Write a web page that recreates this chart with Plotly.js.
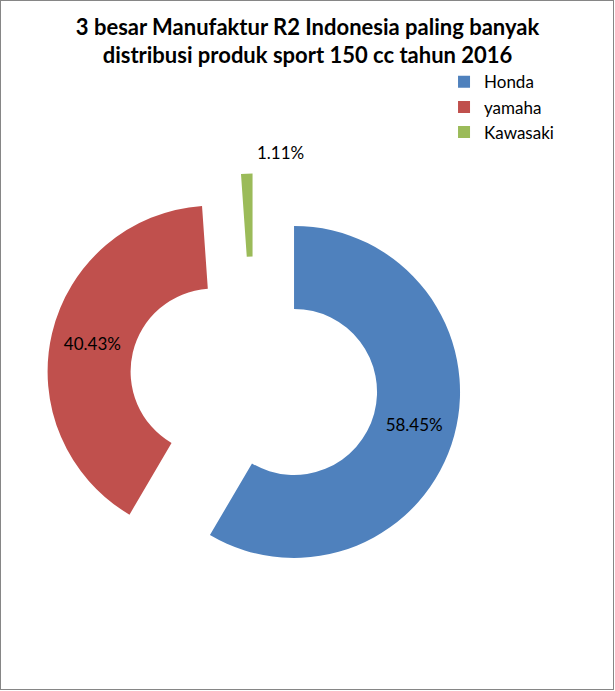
<!DOCTYPE html>
<html>
<head>
<meta charset="utf-8">
<script src="https://cdn.plot.ly/plotly-3.0.1.min.js"></script>
<style>
html,body{margin:0;padding:0;background:#fff;}
#frame{position:absolute;left:0;top:0;width:614px;height:690px;box-sizing:border-box;border:1px solid #868686;overflow:hidden;}
#chart{position:absolute;left:-1px;top:-1px;width:615px;height:691px;}
</style>
</head>
<body>
<div id="frame"><div id="chart"></div></div>
<script>
var manufacturers = ["Honda", "yamaha", "Kawasaki"];
var shares = [58.45, 40.43, 1.11];
var sliceColors = ["#4F81BD", "#C0504D", "#9BBB59"];
var titleText = "3 besar Manufaktur R2 Indonesia paling banyak<br>distribusi produk sport 150 cc tahun 2016";

var FONT = "Lato, 'Open Sans', sans-serif";
var W = 615, H = 691;
var PULL = 0.25;
var DOM_X = [0.0756, 0.7504], DOM_Y = [0.1483, 0.7489];

var trace = {
  type: "pie",
  labels: manufacturers,
  values: shares,
  sort: false,
  direction: "clockwise",
  rotation: 0,
  hole: 0.5,
  pull: manufacturers.map(function () { return PULL; }),
  marker: {colors: sliceColors, line: {width: 0}},
  texttemplate: ["%{value:.2f}%", "%{value:.2f}%", ""],
  textposition: ["inside", "inside", "none"],
  insidetextorientation: "horizontal",
  textfont: {family: FONT, size: 17, color: "#000"},
  insidetextfont: {family: FONT, size: 17, color: "#000"},
  hoverinfo: "label+percent",
  domain: {x: DOM_X, y: DOM_Y}
};

// label for the thin last slice, placed just right of its outer tip (derived from the pie geometry)
var total = shares.reduce(function (a, b) { return a + b; }, 0);
var before = shares[0] + shares[1];
var theta = (before + shares[2] / 2) / total * 2 * Math.PI;
var cx = (DOM_X[0] + DOM_X[1]) / 2 * W;
var cy = (1 - (DOM_Y[0] + DOM_Y[1]) / 2) * H;
var r = (DOM_X[1] - DOM_X[0]) * W / 2 / (1 + PULL);
var tipX = cx + r * (1 + PULL) * Math.sin(theta);
var tipY = cy - r * (1 + PULL) * Math.cos(theta);

var layout = {
  width: W,
  height: H,
  margin: {l: 0, r: 0, t: 0, b: 0},
  paper_bgcolor: "#fff",
  plot_bgcolor: "#fff",
  font: {family: FONT, color: "#000"},
  title: {
    text: titleText,
    font: {family: FONT, size: 22, color: "#000", weight: "bold"},
    x: 0.5, xanchor: "center",
    y: 0.9497, yanchor: "top", yref: "container"
  },
  showlegend: true,
  legend: {
    x: 0.722, xanchor: "left",
    y: 0.907, yanchor: "top",
    font: {family: FONT, size: 17, color: "#000"},
    bgcolor: "rgba(0,0,0,0)",
    traceorder: "normal"
  },
  annotations: [{
    text: shares[2].toFixed(2) + "%",
    xref: "paper", yref: "paper",
    x: (tipX + 8) / W, y: 1 - (tipY - 9) / H,
    xanchor: "left", yanchor: "bottom",
    showarrow: false,
    font: {family: FONT, size: 17, color: "#000"}
  }]
};

Plotly.newPlot("chart", [trace], layout, {displayModeBar: false, staticPlot: true});
</script>
</body>
</html>
